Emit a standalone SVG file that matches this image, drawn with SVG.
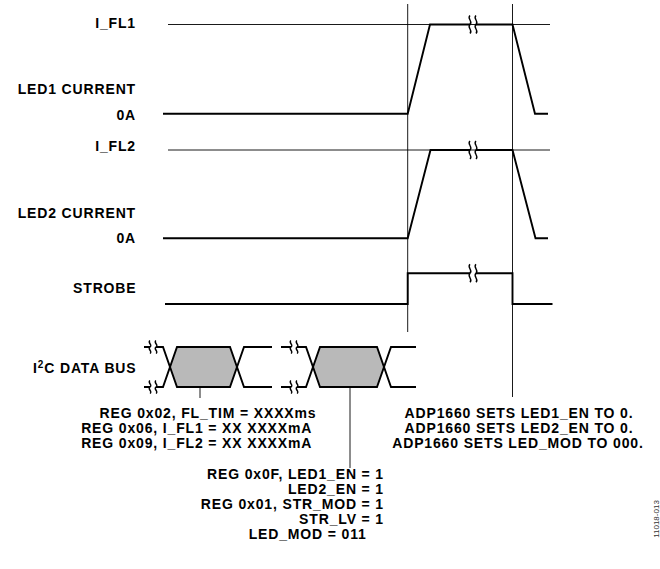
<svg xmlns="http://www.w3.org/2000/svg" xmlns:xlink="http://www.w3.org/1999/xlink" width="660" height="569" viewBox="0 0 660 569">
<style>
  .t{font-family:"Liberation Sans",Arial,Helvetica,sans-serif;font-weight:bold;font-size:14px;letter-spacing:0.85px;fill:#000}
  .e{text-anchor:end}
  .m{text-anchor:middle}
  .thin{fill:none;stroke:#000;stroke-width:0.9}
  .thick{fill:none;stroke:#000;stroke-width:1.9;stroke-linejoin:miter}
  .brk{fill:none;stroke:#000;stroke-width:1.4}
  .hex{fill:#b9b9b9;stroke:none}
  .id{font-family:"Liberation Sans",Arial,sans-serif;font-size:8px;fill:#333}
</style>
<defs>
  <path id="brkL" class="brk" d="M -3,-9 c -3.5,3 3.5,6 0,9 c -3.5,3 3.5,6 0,9 M 3,-9 c -3.5,3 3.5,6 0,9 c -3.5,3 3.5,6 0,9"/>
  <path id="brkS" class="brk" d="M -3,-6.5 c -3,2 3,4.5 0,6.5 c -3,2 3,4.5 0,6.5 M 3,-6.5 c -3,2 3,4.5 0,6.5 c -3,2 3,4.5 0,6.5"/>
</defs>
<rect width="660" height="569" fill="#fff"/>

<g id="connectors">
  <line class="thin" x1="407.7" y1="4" x2="407.7" y2="332"/>
  <line class="thin" x1="512.5" y1="4" x2="512.5" y2="397"/>
  <line class="thin" x1="200" y1="367" x2="200" y2="398"/>
  <line class="thin" x1="350" y1="367" x2="350" y2="468"/>
</g>

<g id="led1-current">
  <text class="t e" x="136" y="28">I_FL1</text>
  <text class="t e" x="136" y="94">LED1 CURRENT</text>
  <text class="t e" x="136" y="120">0A</text>
  <line class="thin" x1="168" y1="24.5" x2="550" y2="24.5"/>
  <path class="thick" d="M 163,113.7 H 407.7 L 430,24.5 H 470"/>
  <path class="thick" d="M 476,24.5 H 512.5 L 535,113.7 H 548"/>
  <use xlink:href="#brkL" x="473" y="24.5"/>
</g>

<g id="led2-current">
  <text class="t e" x="136" y="151">I_FL2</text>
  <text class="t e" x="136" y="218">LED2 CURRENT</text>
  <text class="t e" x="136" y="243">0A</text>
  <line class="thin" x1="168" y1="150" x2="550" y2="150"/>
  <path class="thick" d="M 163,238.3 H 407.7 L 430.5,150 H 470"/>
  <path class="thick" d="M 476,150 H 512.5 L 535.5,238.3 H 548"/>
  <use xlink:href="#brkL" x="473" y="150"/>
</g>

<g id="strobe">
  <text class="t e" x="136.5" y="292.5">STROBE</text>
  <path class="thick" d="M 165,304 H 407.7 V 273.3 H 470"/>
  <path class="thick" d="M 476,273.3 H 512.5 V 304 H 552.5"/>
  <use xlink:href="#brkL" x="473" y="273.3"/>
</g>

<g id="i2c-bus">
  <text class="t e" x="136.5" y="373">I<tspan font-size="10" dy="-5">2</tspan><tspan dy="5">C DATA BUS</tspan></text>
  <polygon class="hex" points="170,367 177,347 230,347 237,367 230,387 177,387"/>
  <polygon class="hex" points="313,367 320,347 377,347 384,367 377,387 320,387"/>
  <path class="thick" d="M 144,347 H 150 M 156,347 H 163 L 177,387 H 230 L 244,347 H 272"/>
  <path class="thick" d="M 144,387 H 150 M 156,387 H 163 L 177,347 H 230 L 244,387 H 272"/>
  <use xlink:href="#brkS" x="153" y="347"/>
  <use xlink:href="#brkS" x="153" y="387"/>
  <path class="thick" d="M 281,347 H 291 M 297,347 H 306 L 320,387 H 377 L 391,347 H 416"/>
  <path class="thick" d="M 281,387 H 291 M 297,387 H 306 L 320,347 H 377 L 391,387 H 416"/>
  <use xlink:href="#brkS" x="294" y="347"/>
  <use xlink:href="#brkS" x="294" y="387"/>
</g>

<g id="note-reg-write-1">
  <text class="t m" x="208" y="418">REG 0x02, FL_TIM = XXXXms</text>
  <text class="t m" x="196.7" y="433">REG 0x06, I_FL1 = XX XXXXmA</text>
  <text class="t m" x="196.7" y="448">REG 0x09, I_FL2 = XX XXXXmA</text>
</g>

<g id="note-adp-sets">
  <text class="t m" x="519" y="418">ADP1660 SETS LED1_EN TO 0.</text>
  <text class="t m" x="519" y="433">ADP1660 SETS LED2_EN TO 0.</text>
  <text class="t m" x="518" y="448">ADP1660 SETS LED_MOD TO 000.</text>
</g>

<g id="note-reg-write-2">
  <text class="t e" x="384" y="479">REG 0x0F, LED1_EN = 1</text>
  <text class="t e" x="384" y="494">LED2_EN = 1</text>
  <text class="t e" x="384" y="509">REG 0x01, STR_MOD = 1</text>
  <text class="t e" x="384" y="524">STR_LV = 1</text>
  <text class="t e" x="366.7" y="539">LED_MOD = 011</text>
</g>

<text class="id m" transform="translate(659,519) rotate(-90)">11018-013</text>
</svg>
